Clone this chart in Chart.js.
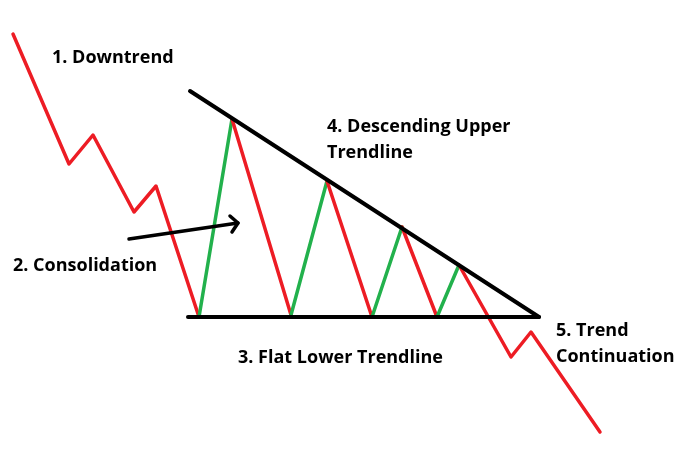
<!DOCTYPE html>
<html>
<head>
<meta charset="utf-8">
<script src="https://cdn.jsdelivr.net/npm/chart.js@4"></script>
<style>
  html, body { margin: 0; padding: 0; background: #fff; }
  #wrap { width: 680px; height: 469px; }
</style>
</head>
<body>
<div id="wrap"><canvas id="myChart" width="680" height="469"></canvas></div>
<script>
// price path (x, y in picture units, y grows downward)
const priceX = [13, 69, 93, 134, 156, 199, 232, 291, 327, 372, 402, 437, 459, 511, 531, 600];
const priceY = [34, 164, 135, 212, 186, 317, 119, 315, 181, 317, 227, 317, 265, 357, 332, 432];

// trendlines
const upperX = [190, 539];
const upperY = [91, 317];
const lowerX = [188, 539];
const lowerY = [317, 317];

// arrow pointing at the consolidation
const arrowX = [129, 238];
const arrowY = [239, 223];
const arrowHeadX = [230, 238, 232];
const arrowHeadY = [216, 223, 232];

// text notes
const noteText = ['1. Downtrend', '2. Consolidation', '3. Flat Lower Trendline', '4. Descending Upper', 'Trendline', '5. Trend', 'Continuation'];
const noteX = [52, 13, 238, 327, 327, 556, 556];
const noteY = [58, 266, 358, 127, 153, 331, 357];

const RED = '#ed1c24';
const GREEN = '#22b14c';

var toPoints = function(xs, ys) {
    return xs.map((x, i) => ({ x: x, y: ys[i] }));
}

var notesPlugin = {
    id: 'notes',
    afterDatasetsDraw: function(chart) {
        var ctx = chart.ctx;
        var sx = chart.scales.x;
        var sy = chart.scales.y;
        ctx.save();
        ctx.fillStyle = '#000';
        ctx.font = 'bold 18px "Open Sans"';
        ctx.textBaseline = 'middle';
        ctx.textAlign = 'left';
        noteText.forEach((t, i) => {
            ctx.fillText(t, sx.getPixelForValue(noteX[i]), sy.getPixelForValue(noteY[i]));
        });
        ctx.restore();
    }
};

var lineSet = function(xs, ys, color, width) {
    return {
        data: toPoints(xs, ys),
        showLine: true,
        borderColor: color,
        borderWidth: width,
        pointRadius: 0,
        borderCapStyle: 'round',
        borderJoinStyle: 'round',
        tension: 0
    };
}

var price = lineSet(priceX, priceY, RED, 3.5);
// rising legs inside the triangle are green
price.segment = {
    borderColor: c => c.p1.parsed.y < c.p0.parsed.y && c.p0DataIndex >= 5 && c.p0DataIndex < 12 ? GREEN : RED
};

new Chart(document.getElementById('myChart'), {
    type: 'scatter',
    data: {
        datasets: [
            lineSet(upperX, upperY, '#000', 4),
            lineSet(lowerX, lowerY, '#000', 4),
            lineSet(arrowX, arrowY, '#000', 3.5),
            lineSet(arrowHeadX, arrowHeadY, '#000', 3.5),
            price
        ]
    },
    options: {
        responsive: false,
        animation: false,
        layout: { padding: 0 },
        plugins: { legend: { display: false }, tooltip: { enabled: false } },
        scales: {
            x: { type: 'linear', min: 0, max: 680, display: false },
            y: { type: 'linear', min: 0, max: 469, reverse: true, display: false }
        }
    },
    plugins: [notesPlugin]
});
</script>
</body>
</html>
